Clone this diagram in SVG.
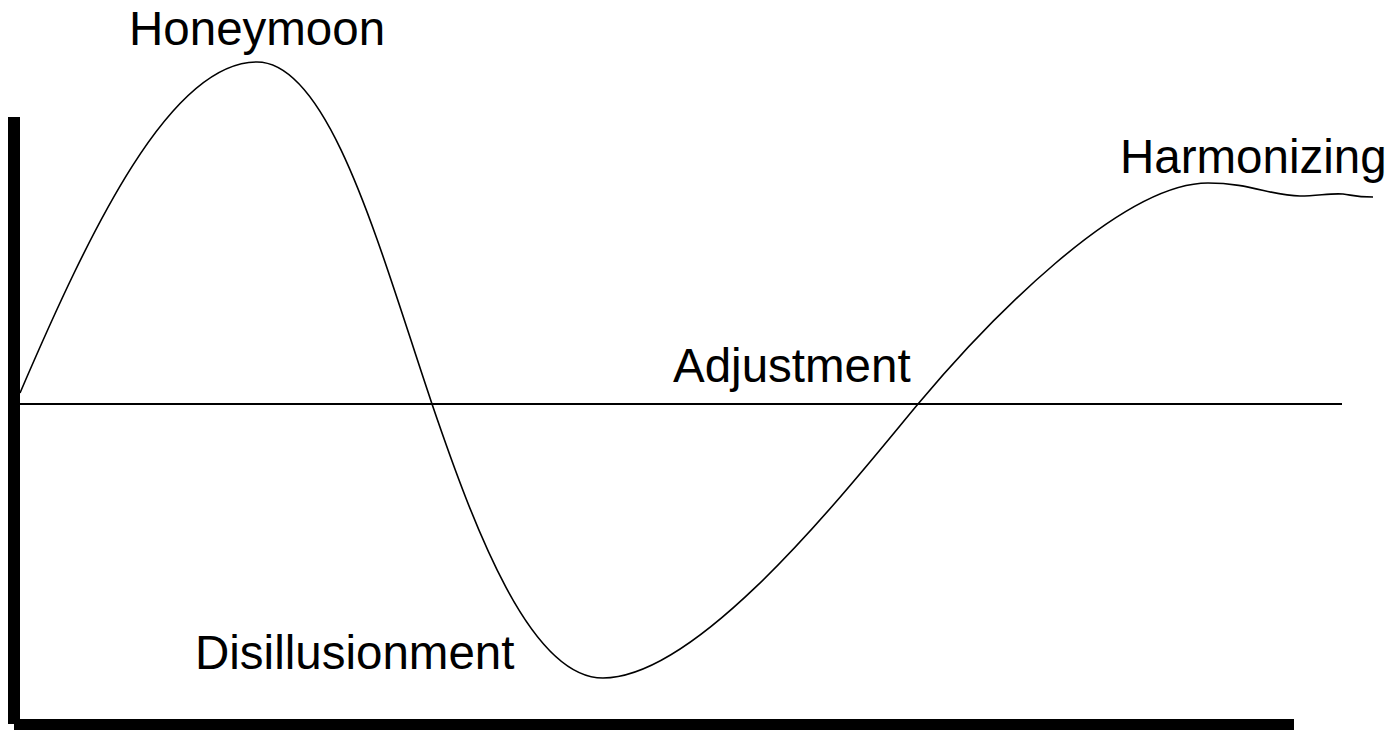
<svg xmlns="http://www.w3.org/2000/svg" width="1397" height="730" viewBox="0 0 1397 730">
<style>
.lbl{font-family:"Liberation Sans",Arial,sans-serif;font-size:47.5px;fill:#000}
.curve{fill:none;stroke:#000;stroke-width:1.6}
</style>
<rect width="1397" height="730" fill="#fff"/>
<g id="axes">
<rect x="8" y="117" width="12" height="607" fill="#000"/>
<rect x="14" y="719" width="1280" height="11" fill="#000"/>
<line x1="20" y1="404" x2="1342" y2="404" stroke="#000" stroke-width="2"/>
</g>
<g id="curve">
<path class="curve" d="M20,393 C90,230 170,62 257,62 C330,62 380,250 432,404 C474,527 530,678 603,678 C700,678 848,488 918,404 C985,324 1120,183 1208,183 C1250,183 1272,196 1300,196 C1318,196 1330,193 1343,194 C1352,195 1355,197 1373,197"/>
</g>
<g id="labels">
<text class="lbl" x="129" y="45">Honeymoon</text>
<text class="lbl" x="1120" y="173">Harmonizing</text>
<text class="lbl" x="673" y="382">Adjustment</text>
<text class="lbl" x="195" y="669">Disillusionment</text>
</g>
</svg>
